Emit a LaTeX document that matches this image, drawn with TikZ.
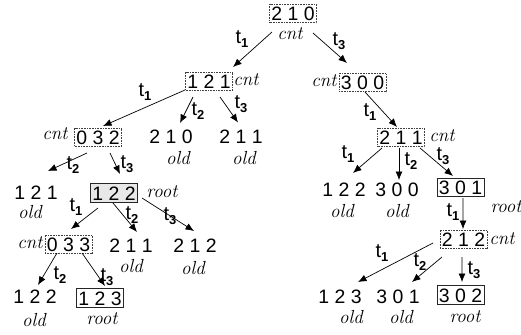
\documentclass[tikz,border=0pt]{standalone}
\usepackage{fontspec}
\newfontfamily\arialf{Liberation Sans}
\usetikzlibrary{arrows.meta}
\newcommand\tlab[1]{{\arialf\fontsize{20}{20}\selectfont t\raisebox{-4.5bp}{\fontsize{13}{13}\selectfont\bfseries #1}}}
\tikzset{
  num/.style={font=\arialf\fontsize{19.5}{19.5}\selectfont, inner xsep=1.8bp, inner ysep=2.2bp, text height=14bp, text depth=0bp},
  dotbox/.style={num, draw=black!75, densely dotted, line width=0.6bp},
  rootbox/.style={num, draw=black!85, line width=0.8bp},
  lab/.style={font=\fontsize{19}{19}\selectfont\itshape, inner sep=0pt},
  tl/.style={inner sep=0pt},
  arr/.style={line width=0.7bp, -{Latex[length=8.5bp,width=7bp]}}
}
\begin{document}
\begin{tikzpicture}[x=1bp,y=-1bp]
\useasboundingbox[fill=white] (0,0) rectangle (521,334);
% nodes
\node[dotbox] (r) at (293,13.5) {2 1 0};
\node[lab] (rc) at (290,34) {cnt};
\node[dotbox] (a) at (209,81) {1 2 1};
\node[lab] (ac) at (246,80) {cnt};
\node[dotbox] (b) at (362.5,82.5) {3 0 0};
\node[lab] (bc) at (324,81) {cnt};
\node[dotbox] (c) at (98,137) {0 3 2};
\node[lab] (cc) at (55,134) {cnt};
\node[num] (d) at (171,136.5) {2 1 0};
\node[lab] (dold) at (178,158) {old};
\node[num] (e) at (241,136.5) {2 1 1};
\node[lab] (eold) at (244,158) {old};
\node[num] (f) at (36,192.5) {1 2 1};
\node[lab] (fold) at (30,212) {old};
\node[rootbox, fill=gray!18] (g) at (114,193) {1 2 2};
\node[lab] (groot) at (162,192) {root};
\node[dotbox] (h) at (68.5,244) {0 3 3};
\node[lab] (hc) at (30,243) {cnt};
\node[num] (i) at (131,245) {2 1 1};
\node[lab] (iold) at (131,266) {old};
\node[num] (j) at (195,245) {2 1 2};
\node[lab] (jold) at (193,268) {old};
\node[num] (k) at (35,296.5) {1 2 2};
\node[lab] (kold) at (34,320) {old};
\node[rootbox] (l) at (100,298) {1 2 3};
\node[lab] (lroot) at (102,319) {root};
\node[dotbox] (m) at (401,137.5) {2 1 1};
\node[lab] (mc) at (442,136) {cnt};
\node[num] (n) at (344,189.5) {1 2 2};
\node[lab] (nold) at (342,211) {old};
\node[num] (o) at (397,189.5) {3 0 0};
\node[lab] (oold) at (397,211) {old};
\node[rootbox] (p) at (460.5,187.5) {3 0 1};
\node[lab] (proot) at (506,207) {root};
\node[dotbox] (q) at (463.5,239) {2 1 2};
\node[lab] (qc) at (502,239) {cnt};
\node[num] (s) at (340,296.5) {1 2 3};
\node[lab] (sold) at (351,317) {old};
\node[num] (u) at (398,296.5) {3 0 1};
\node[lab] (uold) at (401,317) {old};
\node[rootbox] (v) at (460.5,295) {3 0 2};
\node[lab] (vroot) at (465,317) {root};
% edges
\draw[arr] ([shift={(-21,18.5)}]r.center) -- ([shift={(24,-14)}]a.center);
\draw[arr] ([shift={(20,19.5)}]r.center) -- ([shift={(-15.5,-19.5)}]b.center);
\draw[arr] ([shift={(-24,9)}]a.center) -- ([shift={(5,-11)}]c.center);
\draw[arr] ([shift={(-16,16)}]a.center) -- ([shift={(9,-13.5)}]d.center);
\draw[arr] ([shift={(11,16)}]a.center) -- ([shift={(-3,-14)}]e.center);
\draw[arr] ([shift={(2.5,9.5)}]b.center) -- ([shift={(-4,-10.5)}]m.center);
\draw[arr] ([shift={(-11,16)}]c.center) -- ([shift={(12,-21.5)}]f.center);
\draw[arr] ([shift={(12,16)}]c.center) -- ([shift={(6,-19)}]g.center);
\draw[arr] ([shift={(-16,15)}]g.center) -- ([shift={(2.5,-15)}]h.center);
\draw[arr] ([shift={(-1,10)}]g.center) -- ([shift={(6,-13)}]i.center);
\draw[arr] ([shift={(28,5)}]g.center) -- ([shift={(-1,-14)}]j.center);
\draw[arr] ([shift={(-11.5,9)}]h.center) -- ([shift={(3,-11.5)}]k.center);
\draw[arr] ([shift={(13.5,9)}]h.center) -- ([shift={(5,-12)}]l.center);
\draw[arr] ([shift={(-19,10.5)}]m.center) -- ([shift={(9,-16.5)}]n.center);
\draw[arr] ([shift={(-2,10.5)}]m.center) -- ([shift={(2,-9.5)}]o.center);
\draw[arr] ([shift={(19,10.5)}]m.center) -- ([shift={(-7.5,-11.5)}]p.center);
\draw[arr] ([shift={(2.5,10.5)}]p.center) -- ([shift={(-0.5,-10)}]q.center);
\draw[arr] ([shift={(-30.5,4)}]q.center) -- ([shift={(18,-14.5)}]s.center);
\draw[arr] ([shift={(-21.5,18)}]q.center) -- ([shift={(14,-14.5)}]u.center);
\draw[arr] ([shift={(-1.5,18)}]q.center) -- ([shift={(1.5,-13)}]v.center);
% edge labels
\node[tl] (t01) at (242,39) {\tlab{1}};
\node[tl] (t02) at (339,41) {\tlab{3}};
\node[tl] (t03) at (145,92) {\tlab{1}};
\node[tl] (t04) at (198,111) {\tlab{2}};
\node[tl] (t05) at (241,104) {\tlab{3}};
\node[tl] (t06) at (370,112) {\tlab{1}};
\node[tl] (t07) at (73,165) {\tlab{2}};
\node[tl] (t08) at (127,164) {\tlab{3}};
\node[tl] (t09) at (76,207) {\tlab{1}};
\node[tl] (t10) at (132,215) {\tlab{2}};
\node[tl] (t11) at (170,216) {\tlab{3}};
\node[tl] (t12) at (60,275) {\tlab{2}};
\node[tl] (t13) at (107,277) {\tlab{3}};
\node[tl] (t14) at (348,154) {\tlab{1}};
\node[tl] (t15) at (411,161) {\tlab{2}};
\node[tl] (t16) at (443,156) {\tlab{3}};
\node[tl] (t17) at (453,212) {\tlab{1}};
\node[tl] (t18) at (382,253) {\tlab{1}};
\node[tl] (t19) at (420,262) {\tlab{2}};
\node[tl] (t20) at (474,270) {\tlab{3}};
\end{tikzpicture}
\end{document}
